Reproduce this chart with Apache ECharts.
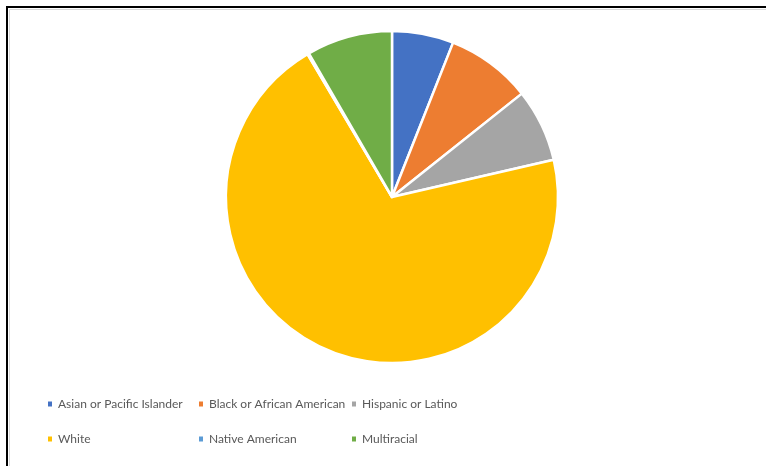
<!DOCTYPE html>
<html>
<head>
<meta charset="utf-8">
<script src="https://cdn.jsdelivr.net/npm/echarts@6/dist/echarts.min.js"></script>
<style>
  html, body { margin: 0; padding: 0; background: #fff; }
  #chart { width: 766px; height: 466px; }
</style>
</head>
<body>
<div id="chart"></div>
<script>
const categories = ['Asian or Pacific Islander', 'Black or African American', 'Hispanic or Latino', 'White', 'Native American', 'Multiracial']
const values = [6.0, 8.3, 7.1, 70.1, 0.15, 8.35]
const colors = ['#4472C4', '#ED7D31', '#A5A5A5', '#FFC000', '#5B9BD5', '#70AD47']
// legend columns, as laid out in the picture (3 across, 2 down)
const legendColumns = [
  ['Asian or Pacific Islander', 'White'],
  ['Black or African American', 'Native American'],
  ['Hispanic or Latino', 'Multiracial']
]
const legendLeft = [46, 197, 350]

const chart = echarts.init(document.getElementById('chart'))
const option = {
  animation: false,
  color: colors,
  graphic: [
    {
      type: 'rect',
      shape: { x: 7, y: 7, width: 800, height: 500 },
      style: { fill: 'none', stroke: '#000', lineWidth: 2 }
    },
    {
      type: 'rect',
      shape: { x: 9.5, y: 9.5, width: 800, height: 500 },
      style: { fill: 'none', stroke: '#d9d9d9', lineWidth: 1 }
    }
  ],
  legend: legendColumns.map((col, i) => ({
    data: col,
    orient: 'vertical',
    left: legendLeft[i],
    top: 396,
    padding: 0,
    itemWidth: 6,
    itemHeight: 7,
    itemGap: 19,
    icon: 'rect',
    textStyle: {
      color: '#595959',
      fontSize: 12,
      fontFamily: 'Lato, "Liberation Sans", sans-serif',
      lineHeight: 16
    }
  })),
  series: [
    {
      name: 'Population',
      type: 'pie',
      center: [392, 197],
      radius: 166,
      startAngle: 90,
      clockwise: true,
      silent: true,
      label: { show: false },
      labelLine: { show: false },
      itemStyle: { borderColor: '#fff', borderWidth: 2.5 },
      data: categories.map((name, i) => ({ name, value: values[i] }))
    }
  ]
}
chart.setOption(option)
</script>
</body>
</html>
